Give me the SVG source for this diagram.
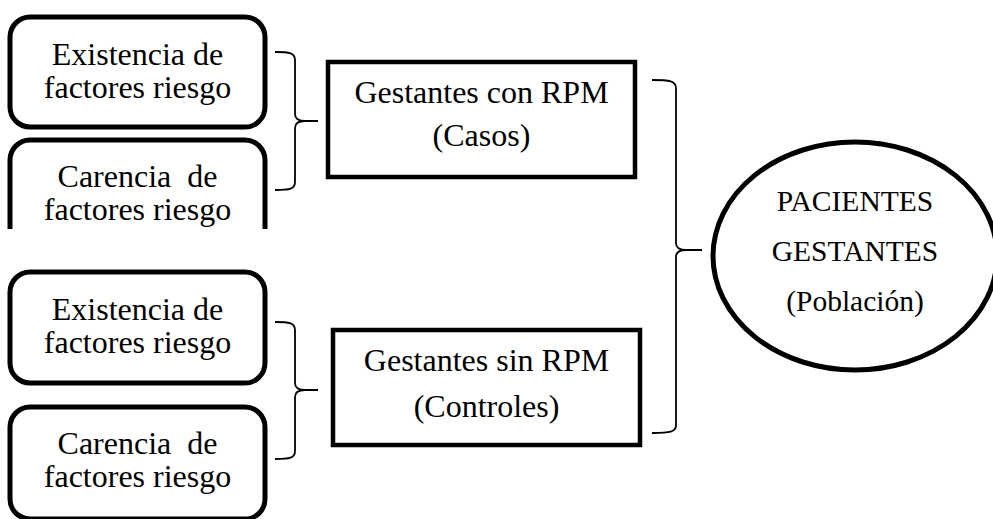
<svg xmlns="http://www.w3.org/2000/svg" width="993" height="519" viewBox="0 0 993 519">
  <style>
    .factor { fill: #fff; stroke: #000; stroke-width: 5; }
    .group { fill: #fff; stroke: #000; stroke-width: 4.5; }
    .pop { fill: #fff; stroke: #000; stroke-width: 5; }
    .brace { fill: none; stroke: #000; stroke-width: 1.8; }
    text { font-family: "Liberation Serif", "Times New Roman", serif; font-size: 32px; fill: #000; text-anchor: middle; }
    .pre { white-space: pre; }
    .small { font-size: 29.5px; }
  </style>
  <defs>
    <clipPath id="clip-carencia-1">
      <rect x="0" y="130" width="300" height="99"/>
    </clipPath>
  </defs>
  <rect width="993" height="519" fill="#fff"/>

  <!-- Risk-factor boxes -->
  <g id="existencia-1">
    <rect class="factor" x="10" y="17" width="255" height="110" rx="20" ry="20"/>
    <text x="137.5" y="65">Existencia de</text>
    <text x="137.5" y="98">factores riesgo</text>
  </g>
  <g id="carencia-1" clip-path="url(#clip-carencia-1)">
    <rect class="factor" x="10" y="140" width="255" height="110" rx="20" ry="20"/>
    <text class="pre" xml:space="preserve" x="137.5" y="187">Carencia  de</text>
    <text x="137.5" y="220">factores riesgo</text>
  </g>
  <g id="existencia-2">
    <rect class="factor" x="10" y="272" width="255" height="111" rx="20" ry="20"/>
    <text x="137.5" y="320">Existencia de</text>
    <text x="137.5" y="353">factores riesgo</text>
  </g>
  <g id="carencia-2">
    <rect class="factor" x="10" y="407" width="255" height="112" rx="20" ry="20"/>
    <text class="pre" xml:space="preserve" x="137.5" y="454">Carencia  de</text>
    <text x="137.5" y="487">factores riesgo</text>
  </g>

  <!-- Study groups -->
  <g id="casos">
    <rect class="group" x="328" y="62" width="307" height="115"/>
    <text x="481.5" y="103">Gestantes con RPM</text>
    <text x="481.5" y="146">(Casos)</text>
  </g>
  <g id="controles">
    <rect class="group" x="333" y="330" width="307" height="115"/>
    <text x="486.5" y="371">Gestantes sin RPM</text>
    <text x="486.5" y="417">(Controles)</text>
  </g>

  <!-- Population -->
  <g id="poblacion">
    <ellipse class="pop" cx="855" cy="256" rx="142" ry="114"/>
    <text class="small" x="855" y="211">PACIENTES</text>
    <text class="small" x="855" y="261">GESTANTES</text>
    <text class="small" x="855" y="311">(Población)</text>
  </g>

  <!-- Curly-brace connectors -->
  <g id="connectors">
    <path class="brace" d="M275,52 C290,52 295,53 295,60 L295,114 C295,119 298,121 305,121 L318,121 M305,121 C298,121 295,123 295,128 L295,182 C295,189 290,190 275,190"/>
    <path class="brace" d="M275,322 C290,322 295,323 295,330 L295,383 C295,388 298,390 305,390 L318,390 M305,390 C298,390 295,392 295,397 L295,451 C295,458 290,459 275,459"/>
    <path class="brace" d="M652,80 C670,80 676,81 676,88 L676,243 C676,248 679,250 686,250 L702,250 M686,250 C679,250 676,252 676,257 L676,425 C676,432 670,433 652,433"/>
  </g>
</svg>
